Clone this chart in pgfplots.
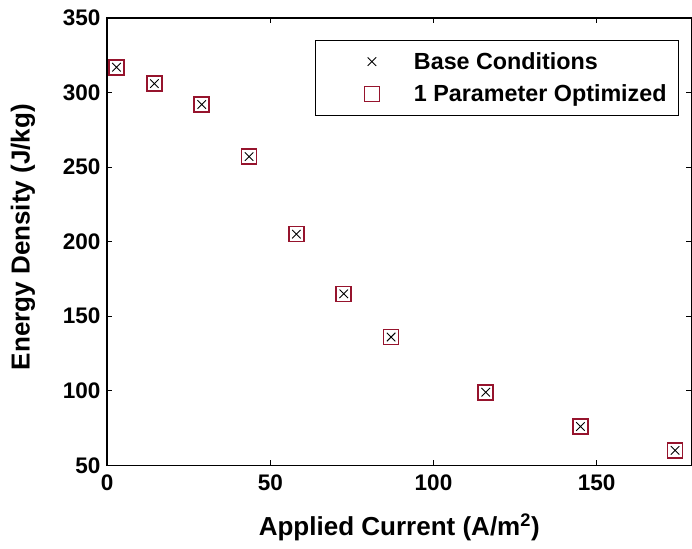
\documentclass[border=0pt]{standalone}
\usepackage{pgfplots}
\pgfplotsset{compat=1.18}
\usepackage{fontspec}
\setmainfont{Liberation Sans}
\definecolor{mred}{RGB}{150,20,45}
\begin{document}
\begin{tikzpicture}
\begin{axis}[
  scale only axis,
  width=584pt, height=447pt,
  xmin=0, xmax=179, ymin=50, ymax=350,
  xtick={0,50,100,150},
  ytick={50,100,...,350},
  tick align=inside,
  major tick length=5pt,
  axis line style={line width=1.2pt},
  tick style={line width=0.8pt, black},
  /pgf/number format/assume math mode=true,
  ticklabel style={font=\fontsize{22.5}{24}\selectfont\bfseries},
  xticklabel style={yshift=-6pt},
  yticklabel style={xshift=-3pt},
  xlabel={Applied Current (A/m\textsuperscript{2})},
  ylabel={Energy Density (J/kg)},
  label style={font=\fontsize{26}{28}\selectfont\bfseries},
  xlabel style={at={(axis description cs:0.5,0)}, anchor=center, yshift=-62pt},
  ylabel style={at={(axis description cs:0,0.51)}, anchor=center, yshift=84pt},
  extra description/.code={\path[draw=none] (rel axis cs:0,1) -- ++(0,18pt); \path[draw=none] (rel axis cs:0,0) -- ++(-107pt,-83pt);},
  legend style={at={(axis description cs:0.979,0.951)}, anchor=north east,
    draw=black, line width=1pt, inner xsep=10pt, inner ysep=10pt,
    font=\fontsize{23.3}{25}\selectfont\bfseries, row sep=10pt,
    /tikz/every even column/.append style={column sep=0pt}},
  legend cell align=left,
  legend image code/.code={\path[draw=none] (-46pt,0pt) -- (40pt,0pt); \draw[#1] plot coordinates {(0pt,0pt)};},
]
\addplot[only marks, mark=x, mark size=6pt, black, line width=0.9pt] coordinates {
(2.9,317) (14.5,306) (29,292) (43.5,257) (58,205) (72.5,165) (87,136) (116,99) (145,76) (174,60)};
\addlegendentry{Base Conditions}
\addplot[only marks, mark=square, mark size=7.5pt, mred, line width=1.6pt] coordinates {
(2.9,317) (14.5,306) (29,292) (43.5,257) (58,205) (72.5,165) (87,136) (116,99) (145,76) (174,60)};
\addlegendentry{1 Parameter Optimized}
\end{axis}
\end{tikzpicture}
\end{document}
